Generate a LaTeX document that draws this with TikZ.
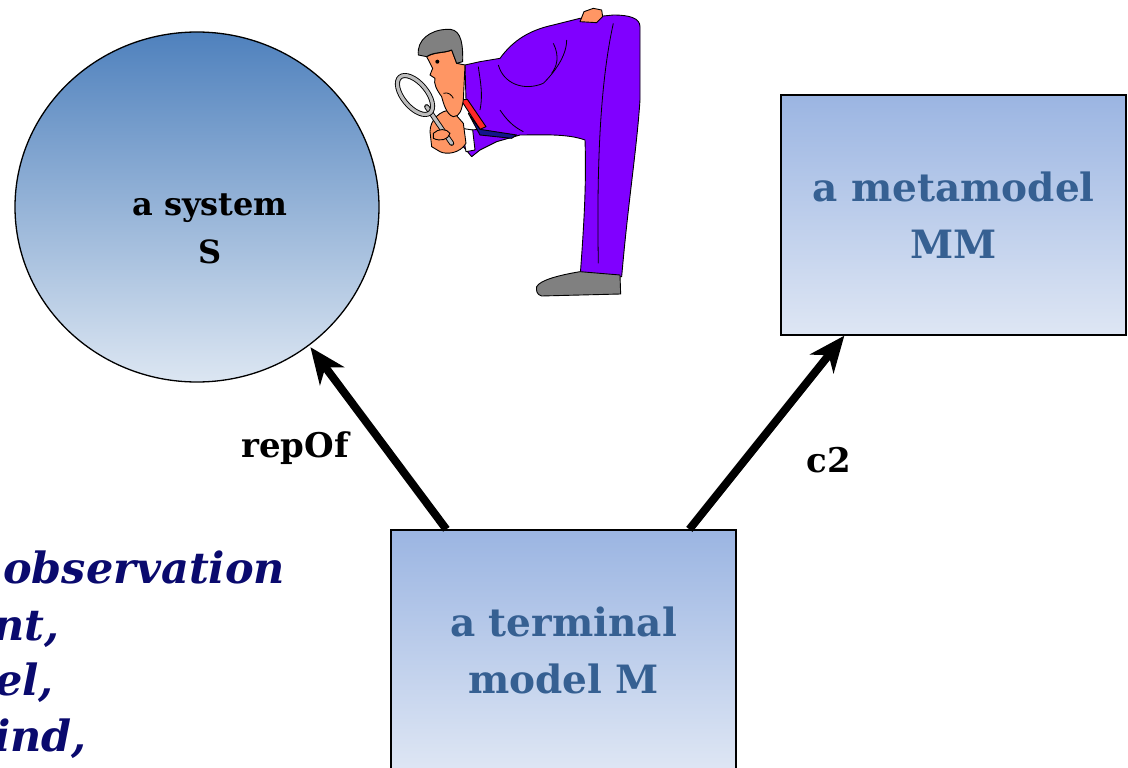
\documentclass[tikz,border=0pt]{standalone}
\usepackage{fontspec}
\setmainfont{DejaVu Serif}
\usetikzlibrary{shapes.geometric,arrows.meta,calc}

\definecolor{sysTop}{RGB}{79,129,189}
\definecolor{sysBot}{RGB}{220,230,242}
\definecolor{boxTop}{RGB}{155,181,226}
\definecolor{boxBot}{RGB}{222,230,244}
\definecolor{boxText}{RGB}{54,96,146}
\definecolor{noteText}{RGB}{10,10,110}
\definecolor{suit}{RGB}{128,0,255}
\definecolor{skin}{RGB}{255,150,100}
\definecolor{greyish}{RGB}{128,128,128}
\definecolor{lensgrey}{RGB}{190,190,190}
\definecolor{tieRed}{RGB}{255,40,40}
\definecolor{tieBlue}{RGB}{20,20,140}

\tikzset{
  modelbox/.style={draw=black, line width=1.3pt, top color=boxTop, bottom color=boxBot,
    minimum width=345pt, minimum height=240pt, inner sep=0pt, align=center,
    text=boxText, font=\fontsize{39}{57}\selectfont\bfseries},
  sysshape/.style={ellipse, draw=black, line width=1.3pt, top color=sysTop, bottom color=sysBot,
    minimum width=364pt, minimum height=350pt, inner sep=0pt},
  bigarrow/.style={line width=8pt, -{Stealth[length=36pt,width=30pt,inset=11pt]}},
  rellabel/.style={font=\fontsize{34}{40}\selectfont\bfseries, text=black, anchor=base, inner sep=0pt},
  noteline/.style={font=\fontsize{43}{56}\selectfont\bfseries\itshape, text=noteText, anchor=base west, inner sep=0pt},
  outl/.style={draw=black, line width=0.9pt, line join=round},
}

\begin{document}
\begin{tikzpicture}[x=1pt,y=-1pt]
\useasboundingbox (0,0) rectangle (1128,768);

% the system, the metamodel and the terminal model
\node[sysshape] (S) at (197,207) {};
\node[font=\fontsize{32}{48}\selectfont\bfseries, align=center, text=black, inner sep=0pt] (Slabel) at (210,229) {a system\\S};
\node[modelbox] (MM) at (953.5,215) {a metamodel\\MM};
\node[modelbox] (M) at (563.5,650) {a terminal\\model M};

% relations
\draw[bigarrow, shorten >=2pt] ($(M.north west)+(56,0)$) -- (S.-51);
\draw[bigarrow] ($(M.north west)+(299,0)$) -- ($(MM.south west)+(64,0)$);
\node[rellabel] (lrep) at (295,457) {repOf};
\node[rellabel] (lc2) at (829,472) {c2};

% note at the left border
\node[noteline] (n1) at (3,583) {observation};
\node[noteline] (n2) at (-7,640) {nt,};
\node[noteline] (n3) at (-5,695) {el,};
\node[noteline] (n4) at (-6,751) {ind,};

% the observer with his magnifying glass
\begin{scope}[shift={(380,0)}, scale=1/3]
  % suit: torso, arm and legs
  \filldraw[outl, fill=suit] (255,195) -- (300,185) -- (360,175)
    .. controls (400,120) and (450,90) .. (520,75) -- (600,55) -- (700,45)
    .. controls (750,45) and (780,55) .. (780,80) -- (780,300)
    .. controls (770,450) and (745,600) .. (725,830) -- (600,835)
    .. controls (610,700) and (620,560) .. (615,420)
    .. controls (560,400) and (480,405) .. (420,405)
    -- (350,425) -- (300,450) -- (275,470) -- (250,440) -- (265,380) -- (258,300) -- cycle;
  % folds of the suit
  \draw[line width=0.8pt] (355,195) .. controls (370,250) and (430,275) .. (490,250);
  \draw[line width=0.8pt] (490,250) .. controls (520,220) and (560,170) .. (560,120);
  \draw[line width=0.8pt] (295,200) .. controls (300,240) and (310,280) .. (300,330);
  \draw[line width=0.8pt] (360,330) .. controls (380,360) and (400,380) .. (430,395);
  \draw[line width=0.8pt] (700,70) .. controls (660,250) and (650,500) .. (655,790);
  \draw[line width=0.8pt] (520,130) .. controls (540,170) and (530,200) .. (515,220);
  % shirt and tie
  \filldraw[outl, fill=white] (228,345) -- (250,300) -- (300,388) -- (245,392) -- cycle;
  \filldraw[outl, fill=tieRed] (243,300) -- (262,298) -- (318,380) -- (300,388) -- cycle;
  \filldraw[outl, fill=tieBlue] (265,340) -- (300,388) -- (410,405) -- (395,415) -- (300,405) -- cycle;
  % cuff and hand
  \filldraw[outl, fill=white] (245,385) -- (278,390) -- (285,450) -- (258,455) -- cycle;
  \filldraw[outl, fill=skin] (150,395) .. controls (150,360) and (180,330) .. (215,330)
    -- (250,370) -- (258,430) .. controls (240,460) and (200,465) .. (180,455) -- (155,440) -- cycle;
  % magnifying glass
  \draw[black, line width=5pt, line cap=round] (140,320) -- (215,430);
  \draw[lensgrey, line width=3.2pt, line cap=round] (140,320) -- (215,430);
  \draw[black, line width=5pt, rotate around={-50:(105,285)}] (105,285) ellipse (70 and 36);
  \draw[lensgrey, line width=3.2pt, rotate around={-50:(105,285)}] (105,285) ellipse (70 and 36);
  % fingers over the handle
  \filldraw[outl, fill=skin] (160,400) .. controls (175,385) and (200,385) .. (210,400)
    .. controls (205,420) and (180,425) .. (160,415) -- cycle;
  % head
  \filldraw[outl, fill=skin] (140,170) .. controls (165,155) and (195,160) .. (215,150)
    -- (230,190) -- (255,195) -- (250,300) .. controls (245,330) and (240,350) .. (220,350)
    .. controls (200,345) and (190,310) .. (185,290) .. controls (170,270) and (160,250) .. (165,235)
    -- (150,225) -- (158,205) -- cycle;
  \filldraw[outl, fill=greyish] (115,165) .. controls (110,120) and (150,90) .. (200,88)
    .. controls (235,85) and (250,110) .. (248,185) -- (230,190) -- (215,150)
    .. controls (190,160) and (160,155) .. (140,170) -- cycle;
  \fill (172,185) circle (6);
  \draw[line width=0.8pt] (190,280) .. controls (205,275) and (215,285) .. (220,295);
  % hand resting on the back
  \filldraw[outl, fill=skin] (600,65) -- (612,35) -- (640,25) -- (665,30) -- (668,50) -- (650,68) -- cycle;
  % shoes
  \filldraw[outl, fill=greyish] (470,860) .. controls (480,840) and (540,825) .. (600,815)
    -- (720,825) -- (722,882) -- (485,888) .. controls (470,885) and (468,870) .. (470,860) -- cycle;
\end{scope}
\end{tikzpicture}
\end{document}
